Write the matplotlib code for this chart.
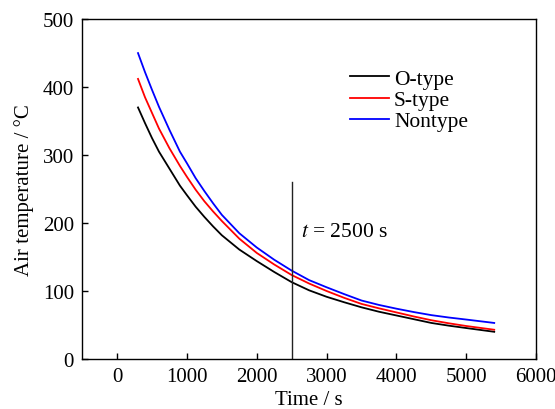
import matplotlib
matplotlib.use('Agg')
import matplotlib.pyplot as plt

plt.rcParams['font.family'] = ['Liberation Serif', 'DejaVu Serif']
plt.rcParams['mathtext.fontset'] = 'stix'

# values
time_s = [300, 400, 500, 600, 750, 900, 1000, 1125, 1250, 1375, 1500,
          1750, 2000, 2250, 2500, 2750, 3000, 3250, 3500, 3750, 4000,
          4250, 4500, 4750, 5000, 5400]
o_type = [370, 347, 325, 305, 280, 255, 241, 224, 209, 195, 182,
          161, 144, 128, 113, 101, 91.5, 83.5, 76, 69.5, 64,
          58.5, 53, 49, 45.5, 40]
s_type = [412, 385, 362, 339, 310, 284, 268, 249, 232, 217, 203,
          177, 156, 139, 123.5, 111, 100, 90, 81, 74.5, 68.5,
          62.5, 57, 52.5, 48.5, 43]
nontype = [450, 422, 396, 371, 337, 305, 288, 266, 247, 229, 212,
           185, 164, 146, 130, 116, 105.5, 95.5, 86, 79.5, 74,
           69, 64.5, 61, 58, 53]
t_mark = 2500
mark_top = 260

fig = plt.figure(figsize=(5.55, 4.10), dpi=100)
ax = fig.add_axes([0.148, 0.122, 0.818, 0.829])

ax.plot(time_s, o_type, color='black', lw=1.3, label='O-type')
ax.plot(time_s, s_type, color='red', lw=1.3, label='S-type')
ax.plot(time_s, nontype, color='blue', lw=1.3, label='Nontype')
ax.plot([t_mark, t_mark], [0, mark_top], color='#222222', lw=1.0)
ax.text(2640, 188, '$t$ = 2500 s', fontsize=15.5, va='center')

ax.set_xlim(-500, 6000)
ax.set_ylim(0, 500)
ax.set_xticks(range(0, 6001, 1000))
ax.set_yticks(range(0, 501, 100))
ax.tick_params(direction='in', length=4, width=1, labelsize=15,
               top=False, right=False, pad=6)
for s in ax.spines.values():
    s.set_linewidth(1.0)
ax.set_xlabel('Time / s', fontsize=15, labelpad=3)
ax.set_ylabel('Air temperature / °C', fontsize=15, labelpad=6)

ax.legend(loc='upper left', bbox_to_anchor=(0.566, 0.885), frameon=False,
          fontsize=15.5, handlelength=1.8, handletextpad=0.25,
          labelspacing=0.05, borderpad=0)

fig.savefig('out.png', dpi=100)
